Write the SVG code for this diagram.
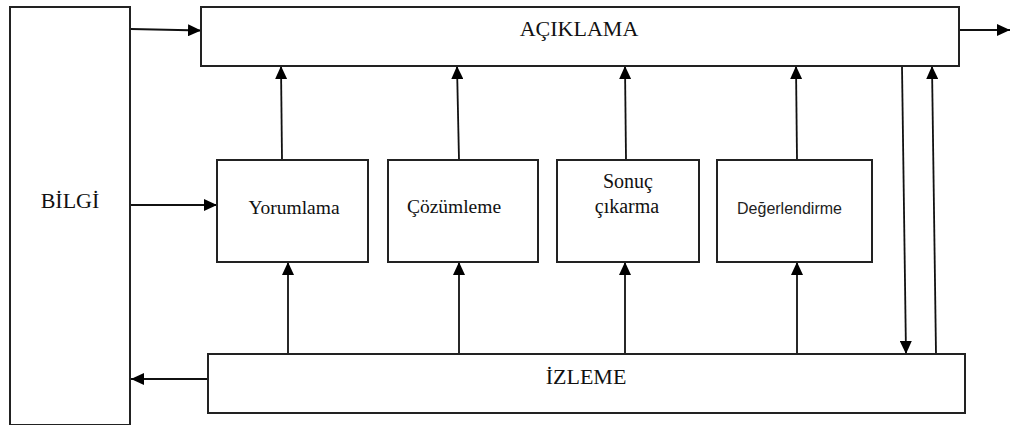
<svg xmlns="http://www.w3.org/2000/svg" width="1010" height="425" viewBox="0 0 1010 425">
<style>
.box{fill:#fff;stroke:#222;stroke-width:2}
.ln{fill:none;stroke:#111;stroke-width:1.8;marker-end:url(#ah)}
.t{font-family:"Liberation Serif","Times New Roman",serif;fill:#111;text-anchor:middle}
.s{font-family:"Liberation Sans",Arial,sans-serif;fill:#222;text-anchor:middle}
</style>
<defs>
<marker id="ah" markerUnits="userSpaceOnUse" markerWidth="14" markerHeight="12" refX="13" refY="6" orient="auto">
<path d="M0,0 L13,6 L0,12 z" fill="#000"/>
</marker>
</defs>
<rect width="1010" height="425" fill="#fff"/>
<g id="connectors">
<line class="ln" x1="131" y1="29" x2="201" y2="30.5"/>
<line class="ln" x1="959" y1="30" x2="1010" y2="30"/>
<line class="ln" x1="131" y1="205" x2="217" y2="205"/>
<line class="ln" x1="208" y1="379" x2="131" y2="379"/>
<line class="ln" x1="282" y1="160" x2="281" y2="66"/>
<line class="ln" x1="459" y1="160" x2="457" y2="66"/>
<line class="ln" x1="626" y1="160" x2="625" y2="66"/>
<line class="ln" x1="797" y1="160" x2="796" y2="66"/>
<line class="ln" x1="288" y1="354" x2="288" y2="262"/>
<line class="ln" x1="459" y1="354" x2="459" y2="262"/>
<line class="ln" x1="625" y1="354" x2="625" y2="262"/>
<line class="ln" x1="797" y1="354" x2="797" y2="262"/>
<line class="ln" x1="902" y1="66" x2="906" y2="354"/>
<line class="ln" x1="936" y1="354" x2="932" y2="66"/>
</g>
<g id="bilgi">
<rect class="box" x="10" y="7" width="120" height="418"/>
<text class="t" x="70" y="208" font-size="22">BİLGİ</text>
</g>
<g id="aciklama">
<rect class="box" x="201" y="7" width="758" height="59"/>
<text class="t" x="579" y="36" font-size="22">AÇIKLAMA</text>
</g>
<g id="yorumlama">
<rect class="box" x="217" y="160" width="151" height="102"/>
<text class="t" x="294" y="214" font-size="19.5">Yorumlama</text>
</g>
<g id="cozumleme">
<rect class="box" x="388" y="160" width="150" height="102"/>
<text class="t" x="454" y="213" font-size="19.5">Çözümleme</text>
</g>
<g id="sonuc">
<rect class="box" x="557" y="160" width="142" height="102"/>
<text class="t" x="628" y="188" font-size="20">Sonuç</text>
<text class="t" x="627" y="213" font-size="20">çıkarma</text>
</g>
<g id="degerlendirme">
<rect class="box" x="717" y="160" width="155" height="102"/>
<text class="s" x="789.5" y="214" font-size="16">Değerlendirme</text>
</g>
<g id="izleme">
<rect class="box" x="208" y="354" width="757" height="59"/>
<text class="t" x="586" y="384" font-size="22">İZLEME</text>
</g>
</svg>
